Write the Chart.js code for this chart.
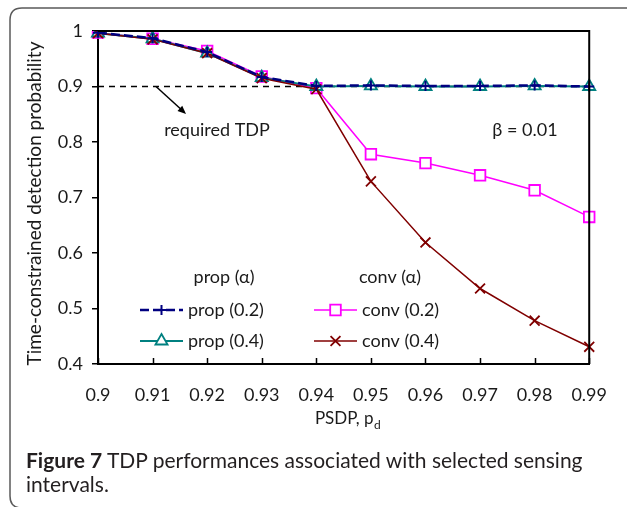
<!DOCTYPE html>
<html>
<head>
<meta charset="utf-8">
<title>TDP performances</title>
<script src="https://cdn.jsdelivr.net/npm/chart.js@4.4.1/dist/chart.umd.min.js"></script>
<style>
  html, body { margin: 0; padding: 0; background: #fff; }
  #wrap { position: relative; width: 627px; height: 507px; overflow: hidden; }
  #tdp { position: absolute; left: 0; top: 0; }
  #caption {
    position: absolute; left: 26px; top: 448px;
    font-family: Lato, "Open Sans", sans-serif; font-size: 21px; line-height: 24px;
    color: #231f20;
  }
  #caption b { font-weight: 700; }
</style>
</head>
<body>
<div id="wrap">
  <canvas id="tdp" width="627" height="507"></canvas>
  <div id="caption"><b>Figure 7</b> TDP performances associated with selected sensing<br>intervals.</div>
</div>
<script>
// PSDP values on the x axis
const psdp = ["0.9", "0.91", "0.92", "0.93", "0.94", "0.95", "0.96", "0.97", "0.98", "0.99"];

// time-constrained detection probability per scheme
const prop02 = [0.997, 0.987, 0.962, 0.917, 0.901, 0.902, 0.901, 0.901, 0.902, 0.900];
const prop04 = [0.996, 0.986, 0.960, 0.916, 0.900, 0.901, 0.900, 0.900, 0.901, 0.900];
const conv02 = [0.997, 0.986, 0.964, 0.918, 0.897, 0.778, 0.762, 0.740, 0.713, 0.665];
const conv04 = [0.996, 0.985, 0.960, 0.915, 0.895, 0.729, 0.619, 0.536, 0.478, 0.431];

const requiredTdp = 0.9;
const beta = 0.01;

const FONT = "Lato, 'Open Sans', sans-serif";
const INK = "#1a1a1a";

const NAVY = "#000080", TEAL = "#008080", MAGENTA = "#ff00ff", MAROON = "#800000";

const seriesStyle = {
  prop02: { borderColor: NAVY, borderWidth: 2.5, borderDash: [9, 4], pointStyle: "cross", pointRadius: 5, pointBorderWidth: 2 },
  prop04: { borderColor: TEAL, borderWidth: 2, pointStyle: "triangle", pointRadius: 7, pointBorderWidth: 1.8 },
  conv02: { borderColor: MAGENTA, borderWidth: 1.5, pointStyle: "rect", pointRadius: 7.5, pointBorderWidth: 1.8 },
  conv04: { borderColor: MAROON, borderWidth: 1.5, pointStyle: "crossRot", pointRadius: 7, pointBorderWidth: 1.8 }
};

function lineSet(label, values, style, order) {
  return Object.assign({
    label: label,
    data: values,
    fill: false,
    tension: 0,
    order: order,
    pointBackgroundColor: "#fff",
    pointBorderColor: style.borderColor,
    pointHoverRadius: style.pointRadius
  }, style);
}

// frame, inward x ticks, annotations, legend and axis titles
const decorations = {
  id: "decorations",
  afterDraw(chart) {
    const { ctx, chartArea: a } = chart;
    const xs = chart.scales.x;
    ctx.save();

    // outer rounded panel edge
    ctx.strokeStyle = "#5a5a5a";
    ctx.lineWidth = 1.5;
    ctx.beginPath();
    ctx.moveTo(640, 8);
    ctx.lineTo(22, 8);
    ctx.quadraticCurveTo(10, 8, 10, 20);
    ctx.lineTo(10, 496);
    ctx.quadraticCurveTo(10, 508, 22, 508);
    ctx.stroke();

    // top and right sides of the plot box
    ctx.strokeStyle = "#000";
    ctx.lineWidth = 2;
    ctx.beginPath();
    ctx.moveTo(a.left, a.top);
    ctx.lineTo(a.right, a.top);
    ctx.lineTo(a.right, a.bottom);
    ctx.stroke();

    // x ticks point into the plot
    ctx.lineWidth = 1.5;
    ctx.beginPath();
    psdp.forEach((_, i) => {
      const x = Math.round(xs.getPixelForValue(i)) + 0.5;
      ctx.moveTo(x, a.bottom);
      ctx.lineTo(x, a.bottom - 6);
    });
    ctx.stroke();

    // arrow to the required TDP line
    const ax0 = 156, ay0 = chart.scales.y.getPixelForValue(requiredTdp), ax1 = 184, ay1 = 112;
    ctx.lineWidth = 1.5;
    ctx.beginPath();
    ctx.moveTo(ax0, ay0);
    ctx.lineTo(ax1, ay1);
    ctx.stroke();
    const ang = Math.atan2(ay1 - ay0, ax1 - ax0);
    ctx.beginPath();
    ctx.moveTo(ax1 + 2, ay1 + 2);
    ctx.lineTo(ax1 + 2 - 9 * Math.cos(ang - 0.4), ay1 + 2 - 9 * Math.sin(ang - 0.4));
    ctx.lineTo(ax1 + 2 - 9 * Math.cos(ang + 0.4), ay1 + 2 - 9 * Math.sin(ang + 0.4));
    ctx.closePath();
    ctx.fillStyle = "#000";
    ctx.fill();

    ctx.fillStyle = INK;
    ctx.font = "18px " + FONT;
    ctx.textBaseline = "middle";
    ctx.textAlign = "center";
    ctx.fillText("required TDP", 217, 130);
    ctx.fillText("\u03b2 = " + beta.toFixed(2), 525, 130);

    // legend in two columns
    ctx.fillText("prop (\u03b1)", 224, 277);
    ctx.fillText("conv (\u03b1)", 390, 277);
    const rows = [
      { key: "prop02", text: "prop (0.2)", x: 140, y: 310 },
      { key: "prop04", text: "prop (0.4)", x: 140, y: 341 },
      { key: "conv02", text: "conv (0.2)", x: 314, y: 310 },
      { key: "conv04", text: "conv (0.4)", x: 314, y: 341 }
    ];
    rows.forEach(r => {
      const s = seriesStyle[r.key];
      ctx.strokeStyle = s.borderColor;
      ctx.lineWidth = s.borderWidth;
      ctx.setLineDash(s.borderDash || []);
      ctx.beginPath();
      ctx.moveTo(r.x, r.y);
      ctx.lineTo(r.x + 43, r.y);
      ctx.stroke();
      ctx.setLineDash([]);
      ctx.fillStyle = "#fff";
      ctx.lineWidth = s.pointBorderWidth;
      Chart.helpers.drawPoint(ctx, {
        pointStyle: s.pointStyle, radius: s.pointRadius, borderWidth: s.pointBorderWidth, rotation: 0
      }, r.x + 21.5, r.y);
      ctx.fillStyle = INK;
      ctx.textAlign = "left";
      ctx.fillText(r.text, r.x + 48, r.y);
    });

    // axis titles
    ctx.textAlign = "left";
    ctx.textBaseline = "alphabetic";
    ctx.font = "17px " + FONT;
    const main = "PSDP, p";
    const mw = ctx.measureText(main).width;
    ctx.font = "12px " + FONT;
    const sw = ctx.measureText("d").width;
    const tx = (a.left + a.right) / 2 + 4 - (mw + sw) / 2;
    ctx.font = "17px " + FONT;
    ctx.fillText(main, tx, 424);
    ctx.font = "12px " + FONT;
    ctx.fillText("d", tx + mw + 0.5, 429);

    ctx.translate(35, (a.top + a.bottom) / 2 + 6);
    ctx.rotate(-Math.PI / 2);
    ctx.font = "19px " + FONT;
    ctx.textAlign = "center";
    ctx.textBaseline = "middle";
    ctx.fillText("Time-constrained detection probability", 0, 0);

    ctx.restore();
  }
};

new Chart(document.getElementById("tdp"), {
  type: "line",
  data: {
    labels: psdp,
    datasets: [
      lineSet("prop (0.2)", prop02, seriesStyle.prop02, 0),
      lineSet("conv (0.4)", conv04, seriesStyle.conv04, 1),
      lineSet("prop (0.4)", prop04, seriesStyle.prop04, 2),
      lineSet("conv (0.2)", conv02, seriesStyle.conv02, 3),
      {
        label: "required TDP",
        data: psdp.map(() => requiredTdp),
        borderColor: "#000",
        borderWidth: 1.5,
        borderDash: [6, 5],
        pointRadius: 0,
        fill: false,
        order: 4
      }
    ]
  },
  options: {
    responsive: false,
    animation: false,
    layout: { padding: { left: 0, top: 31, right: 28, bottom: 0 } },
    plugins: { legend: { display: false }, tooltip: { enabled: false } },
    scales: {
      x: {
        type: "category",
        offset: false,
        grid: { display: false, drawTicks: false },
        border: { display: true, color: "#000", width: 2 },
        ticks: { color: INK, font: { family: FONT, size: 18 }, padding: 20, maxRotation: 0, autoSkip: false },
        afterFit(scale) { scale.height = 143; }
      },
      y: {
        min: 0.4,
        max: 1,
        grid: { drawOnChartArea: false, drawTicks: true, tickLength: 6, color: "#000", lineWidth: 1.5 },
        border: { display: true, color: "#000", width: 2 },
        ticks: {
          stepSize: 0.1,
          color: INK,
          font: { family: FONT, size: 18 },
          padding: 9,
          callback: v => String(Math.round(v * 10) / 10)
        },
        afterFit(scale) { scale.width = 98; }
      }
    }
  },
  plugins: [decorations]
});
</script>
</body>
</html>
